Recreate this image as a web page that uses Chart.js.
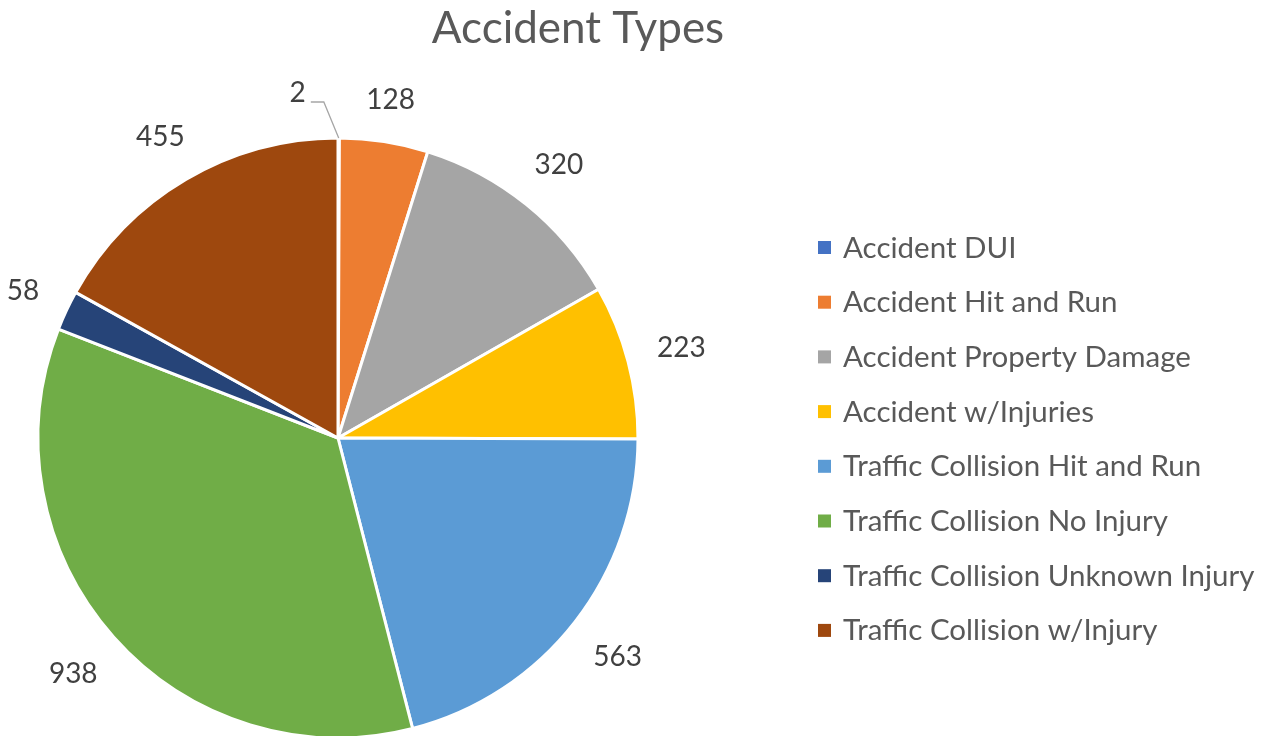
<!DOCTYPE html>
<html><head><meta charset="utf-8">
<script src="https://cdn.jsdelivr.net/npm/chart.js@4"></script>
<style>
html,body{margin:0;padding:0;overflow:hidden;background:#fff;width:1274px;height:736px}
#wrap{position:absolute;left:0;top:0;width:1274px;height:760px}
</style></head>
<body><div id="wrap"><canvas id="c" width="1274" height="760"></canvas></div>
<script>
const chartTitle = 'Accident Types';
const categories = ['Accident DUI','Accident Hit and Run','Accident Property Damage','Accident w/Injuries','Traffic Collision Hit and Run','Traffic Collision No Injury','Traffic Collision Unknown Injury','Traffic Collision w/Injury'];
const values = [2,128,320,223,563,938,58,455];
const colors = ['#4472C4','#ED7D31','#A5A5A5','#FFC000','#5B9BD5','#70AD47','#264478','#9E480E'];

const FONT = 'Lato, "Open Sans", sans-serif';
const LABEL_PX = 28, LEGEND_PX = 29.5, TITLE_PX = 44;
// leader-line nudge for the tiny slice label (offset from slice edge)
const leaderNudge = {0: {dx: -41, dy: -46}};

const titlePlugin = {
  id: 'titleDraw',
  afterDraw(chart) {
    const ctx = chart.ctx; ctx.save();
    ctx.font = TITLE_PX + 'px ' + FONT; ctx.fillStyle = '#595959';
    ctx.textAlign = 'center'; ctx.textBaseline = 'alphabetic';
    ctx.fillText(chartTitle, 578, 43);
    ctx.restore();
  }
};

const legendPlugin = {
  id: 'legendDraw',
  afterDraw(chart) {
    const ctx = chart.ctx; ctx.save();
    ctx.font = LEGEND_PX + 'px ' + FONT; ctx.textBaseline = 'alphabetic'; ctx.textAlign = 'left';
    const bg = chart.data.datasets[0].backgroundColor;
    chart.data.labels.forEach((lab, i) => {
      const cy = 247.5 + i * 54.7;
      ctx.fillStyle = bg[i];
      ctx.fillRect(818, cy - 6.5, 13, 13);
      ctx.fillStyle = '#595959';
      ctx.fillText(lab, 843, cy + 10);
    });
    ctx.restore();
  }
};

const labelPlugin = {
  id: 'outLabels',
  afterDatasetsDraw(chart) {
    const ctx = chart.ctx; ctx.save();
    ctx.font = LABEL_PX + 'px ' + FONT;
    ctx.textAlign = 'center'; ctx.textBaseline = 'alphabetic';
    const meta = chart.getDatasetMeta(0);
    const ds = chart.data.datasets[0].data;
    meta.data.forEach((arc, i) => {
      const p = arc.getProps(['x','y','startAngle','endAngle','outerRadius'], true);
      const mid = (p.startAngle + p.endAngle) / 2;
      const ux = Math.cos(mid), uy = Math.sin(mid);
      const txt = String(ds[i]);
      const w = ctx.measureText(txt).width, h = 20;
      const ax = p.x + ux * p.outerRadius, ay = p.y + uy * p.outerRadius;
      let lx, ly;
      const n = leaderNudge[i];
      if (n) {
        lx = ax + n.dx; ly = ay + n.dy;
        ctx.strokeStyle = '#a6a6a6'; ctx.lineWidth = 1.3;
        ctx.beginPath();
        ctx.moveTo(ax, ay);
        ctx.lineTo(lx + w/2 + 18, ly + 10);
        ctx.lineTo(lx + w/2 + 5, ly + 10);
        ctx.stroke();
      } else {
        const d = 29 + Math.abs(ux) * w / 2 + Math.abs(uy) * h / 2;
        lx = p.x + ux * (p.outerRadius + d); ly = p.y + uy * (p.outerRadius + d);
      }
      ctx.fillStyle = '#404040';
      ctx.fillText(txt, lx, ly + 10);
    });
    ctx.restore();
  }
};

new Chart(document.getElementById('c'), {
  type: 'pie',
  data: {
    labels: categories,
    datasets: [{ data: values, backgroundColor: colors, borderColor: '#ffffff', borderWidth: 3 }]
  },
  options: {
    responsive: false,
    animation: false,
    radius: 300,
    layout: { padding: { left: 38, top: 138, right: 636, bottom: 22 } },
    plugins: { legend: { display: false }, title: { display: false }, tooltip: { enabled: false } }
  },
  plugins: [labelPlugin, legendPlugin, titlePlugin]
});
</script>
</body></html>
